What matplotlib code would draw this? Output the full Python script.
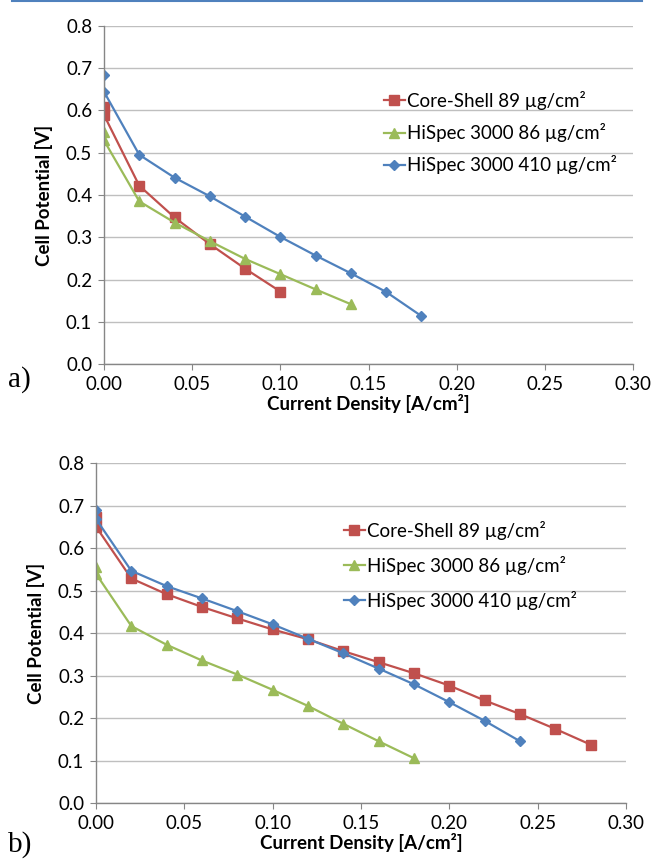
import matplotlib
matplotlib.use('Agg')
import matplotlib.pyplot as plt
from matplotlib.lines import Line2D

# shared x values (current density, A/cm2); each series starts with two readings at 0
x_cs_a   = [0, 0, 0.02, 0.04, 0.06, 0.08, 0.10]
y_cs_a   = [0.607, 0.589, 0.422, 0.347, 0.284, 0.226, 0.172]
x_h86_a  = [0, 0, 0.02, 0.04, 0.06, 0.08, 0.10, 0.12, 0.14]
y_h86_a  = [0.550, 0.529, 0.385, 0.335, 0.291, 0.249, 0.213, 0.177, 0.142]
x_h410_a = [0, 0, 0.02, 0.04, 0.06, 0.08, 0.10, 0.12, 0.14, 0.16, 0.18]
y_h410_a = [0.683, 0.644, 0.495, 0.441, 0.397, 0.349, 0.301, 0.257, 0.215, 0.171, 0.114]

x_cs_b   = [0, 0, 0.02, 0.04, 0.06, 0.08, 0.10, 0.12, 0.14, 0.16, 0.18, 0.20, 0.22, 0.24, 0.26, 0.28]
y_cs_b   = [0.674, 0.651, 0.529, 0.492, 0.462, 0.435, 0.409, 0.386, 0.358, 0.332,
            0.306, 0.277, 0.242, 0.210, 0.175, 0.138]
x_h86_b  = [0, 0, 0.02, 0.04, 0.06, 0.08, 0.10, 0.12, 0.14, 0.16, 0.18]
y_h86_b  = [0.555, 0.540, 0.417, 0.373, 0.336, 0.303, 0.267, 0.229, 0.187, 0.146, 0.106]
x_h410_b = [0, 0, 0.02, 0.04, 0.06, 0.08, 0.10, 0.12, 0.14, 0.16, 0.18, 0.20, 0.22, 0.24]
y_h410_b = [0.690, 0.669, 0.547, 0.511, 0.482, 0.452, 0.421, 0.387, 0.353, 0.317,
            0.280, 0.238, 0.194, 0.146]

labels   = ['Core-Shell 89 µg/cm²', 'HiSpec 3000 86 µg/cm²', 'HiSpec 3000 410 µg/cm²']
xticks   = [0.00, 0.05, 0.10, 0.15, 0.20, 0.25, 0.30]
yticks   = [0.0, 0.1, 0.2, 0.3, 0.4, 0.5, 0.6, 0.7, 0.8]

RED, GREEN, BLUE = '#C0504D', '#9BBB59', '#4F81BD'
AXC, GRIDC = '#868686', '#BFBFBF'

plt.rcParams['font.family'] = ['Lato', 'DejaVu Sans']
plt.rcParams['font.size'] = 11

fig = plt.figure(figsize=(6.54, 8.63), dpi=100)
W, H = 654, 863

def panel(rect, data, leg_top, spacing):
    ax = fig.add_axes(rect)
    (xa, ya), (xb, yb), (xc, yc) = data
    ax.plot(xa, ya, color=RED, marker='s', ms=7, lw=1.6, label=labels[0])
    ax.plot(xb, yb, color=GREEN, marker='^', ms=7, lw=1.6, label=labels[1])
    ax.plot(xc, yc, color=BLUE, marker='D', ms=5, lw=1.6, label=labels[2])
    ax.set_xlim(0, 0.30)
    ax.set_ylim(0, 0.8)
    ax.set_xticks(xticks)
    ax.set_yticks(yticks)
    ax.set_xticklabels(['%.2f' % v for v in xticks])
    ax.set_yticklabels(['%.1f' % v for v in yticks])
    ax.grid(axis='y', color=GRIDC, lw=1.0)
    ax.set_axisbelow(True)
    for s in ['top', 'right']:
        ax.spines[s].set_visible(False)
    for s in ['left', 'bottom']:
        ax.spines[s].set_color(AXC)
        ax.spines[s].set_linewidth(1.0)
    ax.tick_params(length=4.5, color=AXC, labelsize=13.5, pad=4)
    ax.set_xlabel('Current Density [A/cm²]', fontweight='bold', fontsize=13.5, labelpad=1)
    ax.set_ylabel('Cell Potential [V]', fontweight='bold', fontsize=13.5, labelpad=9)
    ax.legend(loc='upper left', bbox_to_anchor=leg_top, bbox_transform=fig.transFigure,
              frameon=False, handlelength=1.1, handletextpad=0.15, borderpad=0,
              labelspacing=spacing, fontsize=13.5, borderaxespad=0)
    return ax

ax1 = panel([104 / W, 1 - 364.3 / H, 529 / W, 338.6 / H],
            [(x_cs_a, y_cs_a), (x_h86_a, y_h86_a), (x_h410_a, y_h410_a)],
            (384 / W, 1 - 91 / H), 0.7)
ax2 = panel([96 / W, 1 - 803.3 / H, 530 / W, 340 / H],
            [(x_cs_b, y_cs_b), (x_h86_b, y_h86_b), (x_h410_b, y_h410_b)],
            (344 / W, 1 - 521 / H), 0.85)

fig.text(8 / W, 1 - 380 / H, 'a)', family='Liberation Serif', fontsize=21, va='center')
fig.text(8 / W, 1 - 845 / H, 'b)', family='Liberation Serif', fontsize=21, va='center')

# thin blue rule along the top edge
fig.add_artist(Line2D([12 / W, 642 / W], [1 - 1 / H, 1 - 1 / H], color='#4F81BD', lw=1.5,
                      transform=fig.transFigure))

fig.savefig('out.png', dpi=100)
